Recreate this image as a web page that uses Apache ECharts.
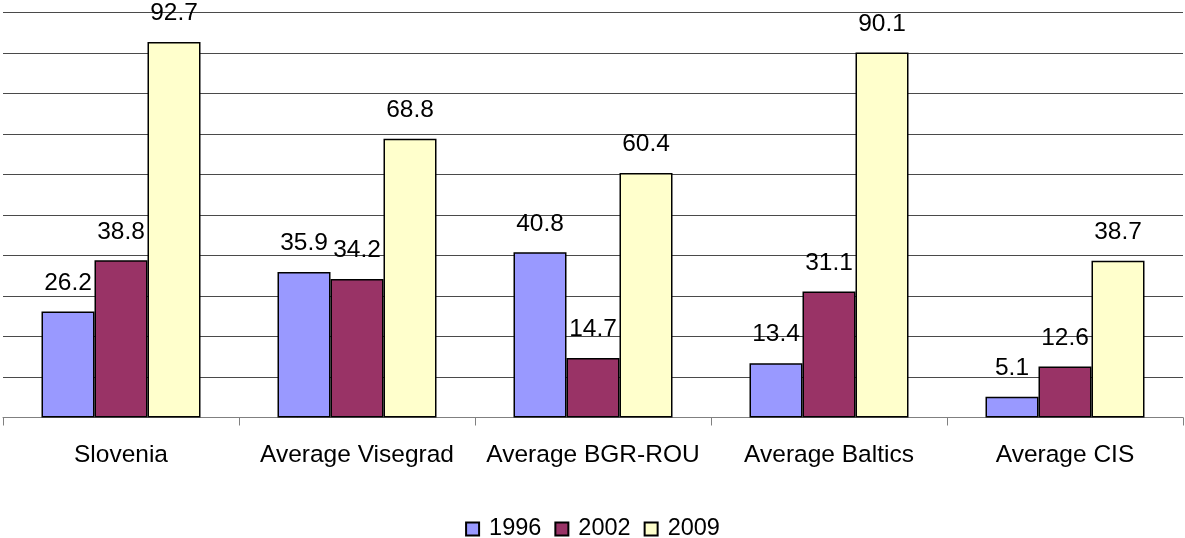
<!DOCTYPE html>
<html>
<head>
<meta charset="utf-8">
<script src="https://cdn.jsdelivr.net/npm/echarts@6/dist/echarts.min.js"></script>
<style>
  html, body { margin: 0; padding: 0; background: #fff; }
  #main { width: 1185px; height: 538px; }
</style>
</head>
<body>
<div id="main"></div>
<script>
// values
let categories = ['Slovenia', 'Average Visegrad', 'Average BGR-ROU', 'Average Baltics', 'Average CIS'];
let years = ['1996', '2002', '2009'];
let values1996 = [26.2, 35.9, 40.8, 13.4, 5.1];
let values2002 = [38.8, 34.2, 14.7, 31.1, 12.6];
let values2009 = [92.7, 68.8, 60.4, 90.1, 38.7];
let colors = ['#9999FF', '#993366', '#FFFFCC'];

let myChart = echarts.init(document.getElementById('main'));
let font = 'Liberation Sans, Arial, sans-serif';

function makeSeries(name, data, color) {
    return {
        name: name,
        type: 'bar',
        data: data,
        barWidth: 53,
        barGap: '0%',
        itemStyle: {
            color: color,
            borderColor: '#000',
            borderWidth: 1.5
        },
        label: {
            show: true,
            position: 'top',
            distance: 16,
            color: '#000',
            fontFamily: font,
            fontSize: 24.5
        }
    };
}

let option = {
    animation: false,
    backgroundColor: '#fff',
    textStyle: { fontFamily: font },
    grid: { left: 3, right: 2, top: 12.5, bottom: 120.5 },
    legend: {
        top: 512,
        left: 'center',
        itemWidth: 13,
        itemHeight: 13,
        itemGap: 13,
        icon: 'rect',
        textStyle: { fontSize: 23.5, color: '#000', fontFamily: font, padding: [0, 0, 0, 5] },
        data: years
    },
    xAxis: {
        type: 'category',
        data: categories,
        axisLine: { lineStyle: { color: '#808080', width: 1 } },
        axisTick: { show: true, interval: 0, length: 8, lineStyle: { color: '#808080' } },
        axisLabel: { interval: 0, hideOverlap: false, color: '#000', fontSize: 24.5, fontFamily: font, margin: 25 }
    },
    yAxis: {
        type: 'value',
        min: 0,
        max: 100,
        interval: 10,
        axisLabel: { show: false },
        axisLine: { show: false },
        axisTick: { show: false },
        splitLine: { lineStyle: { color: '#4a4a4a', width: 1 } }
    },
    series: [
        makeSeries(years[0], values1996, colors[0]),
        makeSeries(years[1], values2002, colors[1]),
        makeSeries(years[2], values2009, colors[2])
    ]
};

myChart.setOption(option);
</script>
</body>
</html>
